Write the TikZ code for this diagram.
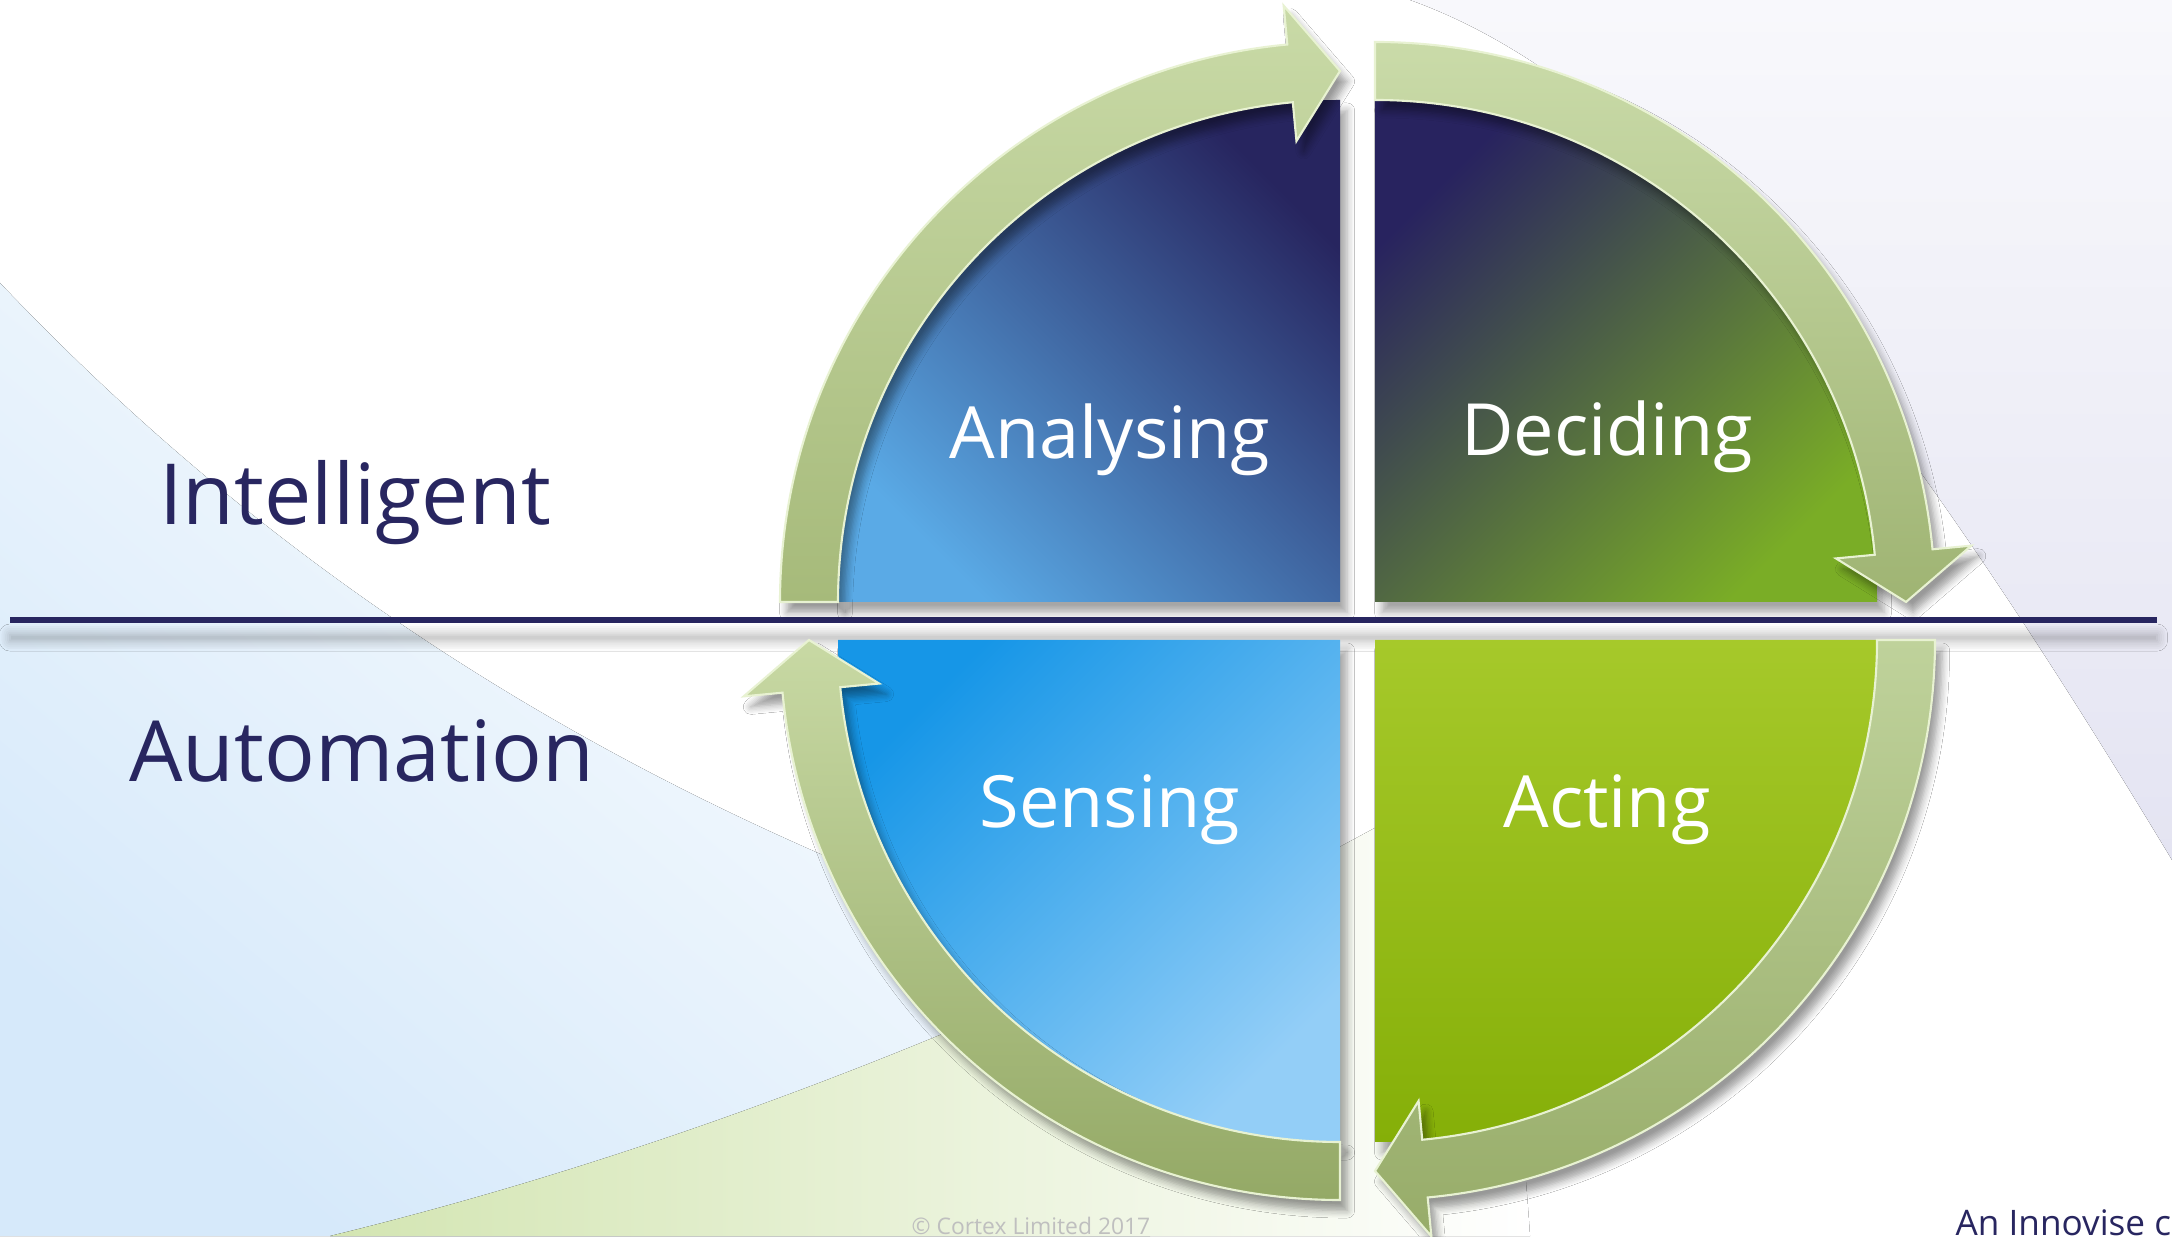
\documentclass[tikz,border=0pt]{standalone}
\usepackage{fontspec}
\setmainfont{Open Sans}
\usepackage{tikz}
\usetikzlibrary{shapes,arrows,positioning,calc,shadows.blur}
\definecolor{navy}{HTML}{282660}
\definecolor{bgblue}{HTML}{D6E9FA}
\definecolor{bggreen}{HTML}{D3E5B2}
\definecolor{bglav}{HTML}{E4E4F2}
\definecolor{anadark}{HTML}{27255F}
\definecolor{analight}{HTML}{5AAAE6}
\definecolor{decdark}{HTML}{28235F}
\definecolor{decgreen}{HTML}{7AAD26}
\definecolor{acttop}{HTML}{A6C92A}
\definecolor{actbot}{HTML}{85AF08}
\definecolor{sentop}{HTML}{1696E7}
\definecolor{senbot}{HTML}{93CEF7}
\definecolor{ringedge}{HTML}{E8F2D2}
\tikzstyle{quad} = [blur shadow={shadow xshift=2pt, shadow yshift=-3pt, shadow blur steps=6, shadow opacity=35}]
\tikzstyle{ring} = [draw=ringedge, line width=0.6pt, blur shadow={shadow xshift=2pt, shadow yshift=-3pt, shadow blur steps=6, shadow opacity=40}]
\tikzstyle{qlabel} = [text=white, anchor=base, font=\fontsize{20.5}{24}\selectfont]
\tikzstyle{side} = [text=navy, anchor=base, font=\fontsize{24}{28}\selectfont]

\begin{document}
\begin{tikzpicture}
    \useasboundingbox (0,0) rectangle (21.72,12.36);

    % Background swooshes
    \fill[white] (0,0) rectangle (21.72,12.36);
    \fill[top color=white, bottom color=bgblue, shading angle=-40] (0,9.53) .. controls (2.5,6.9) and (6,4.3) .. (11.5,2.6) -- (11.5,0) -- (0,0) -- cycle;
    \fill[left color=bggreen, right color=white] (3.30,0) .. controls (7.0,0.9) and (11.0,2.5) .. (14.5,4.5) .. controls (15.0,3.0) and (15.2,1.5) .. (15.3,0) -- cycle;
    \fill[top color=bglav!25!white, bottom color=bglav] (14.1,12.36) .. controls (16.5,11.5) and (18.8,8.6) .. (21.72,3.76) -- (21.72,12.36) -- cycle;

    % Corners of the quadrants
    \coordinate (tl) at (13.40,6.34);
    \coordinate (tr) at (13.75,6.34);
    \coordinate (bl) at (13.40,5.96);
    \coordinate (br) at (13.75,5.96);

    % Divider
    \fill[navy, blur shadow={shadow xshift=0pt, shadow yshift=-5pt, shadow blur radius=3pt, shadow blur steps=6, shadow opacity=30}] (0.10,6.13) rectangle (21.57,6.19);

    % Analysing quadrant
    \path[quad, top color=anadark, bottom color=analight, shading angle=-45]
        (tl) -- ($(tl)+(180:5.02)$) arc[start angle=180, end angle=90, radius=5.02] -- cycle;
    % Deciding quadrant
    \path[quad, top color=decdark, bottom color=decgreen, shading angle=45]
        (tr) -- ($(tr)+(90:5.02)$) arc[start angle=90, end angle=0, radius=5.02] -- cycle;
    % Acting quadrant
    \path[quad, top color=acttop, bottom color=actbot]
        (br) -- ($(br)+(0:5.02)$) arc[start angle=0, end angle=-90, radius=5.02] -- cycle;
    % Sensing quadrant
    \path[quad, top color=sentop, bottom color=senbot, shading angle=45]
        (bl) -- ($(bl)+(-90:5.02)$) arc[start angle=-90, end angle=-180, radius=5.02] -- cycle;

    % Ring arrows
    \path[ring, top color={rgb,255:red,201;green,218;blue,167}, bottom color={rgb,255:red,166;green,186;blue,122}]
        ($(tl)+(180:5.60)$) arc[start angle=180, end angle=95.4, radius=5.60] -- ($(tl)+(95.4:5.99)$) -- ($(tl)+(90:5.31)$)
        -- ($(tl)+(95.4:4.63)$) -- ($(tl)+(95.4:5.02)$) arc[start angle=95.4, end angle=180, radius=5.02] -- cycle;
    \path[ring, top color={rgb,255:red,202;green,219;blue,169}, bottom color={rgb,255:red,159;green,180;blue,115}]
        ($(tr)+(90:5.60)$) arc[start angle=90, end angle=5.4, radius=5.60] -- ($(tr)+(5.4:5.99)$) -- ($(tr)+(0:5.31)$)
        -- ($(tr)+(5.4:4.63)$) -- ($(tr)+(5.4:5.02)$) arc[start angle=5.4, end angle=90, radius=5.02] -- cycle;
    \path[ring, top color={rgb,255:red,191;green,210;blue,155}, bottom color={rgb,255:red,151;green,172;blue,105}]
        ($(br)+(0:5.60)$) arc[start angle=0, end angle=-84.6, radius=5.60] -- ($(br)+(-84.6:5.99)$) -- ($(br)+(-90:5.31)$)
        -- ($(br)+(-84.6:4.63)$) -- ($(br)+(-84.6:5.02)$) arc[start angle=-84.6, end angle=0, radius=5.02] -- cycle;
    \path[ring, top color={rgb,255:red,200;green,217;blue,164}, bottom color={rgb,255:red,148;green,169;blue,102}]
        ($(bl)+(-90:5.60)$) arc[start angle=-90, end angle=-174.6, radius=5.60] -- ($(bl)+(-174.6:5.99)$) -- ($(bl)+(-180:5.31)$)
        -- ($(bl)+(-174.6:4.63)$) -- ($(bl)+(-174.6:5.02)$) arc[start angle=-174.6, end angle=-90, radius=5.02] -- cycle;

    % Labels
    \node[qlabel] (analysing) at (11.10,7.77) {Analysing};
    \node[qlabel] (deciding) at (16.07,7.80) {Deciding};
    \node[qlabel] (sensing) at (11.10,4.08) {Sensing};
    \node[qlabel] (acting) at (16.07,4.08) {Acting};
    \node[side] (intelligent) at (3.55,7.11) {Intelligent};
    \node[side] (automation) at (3.62,4.54) {Automation};

    % Footer
    \node[anchor=base west, inner sep=0pt, text=black!25, font=\fontsize{6.5}{8}\selectfont] (copyright) at (9.11,0.02) {\textcopyright{} Cortex Limited 2017};
    \node[anchor=base west, inner sep=0pt, text=navy, font=\fontsize{10}{12}\selectfont] (innovise) at (19.55,0.01) {An Innovise c};
\end{tikzpicture}
\end{document}
